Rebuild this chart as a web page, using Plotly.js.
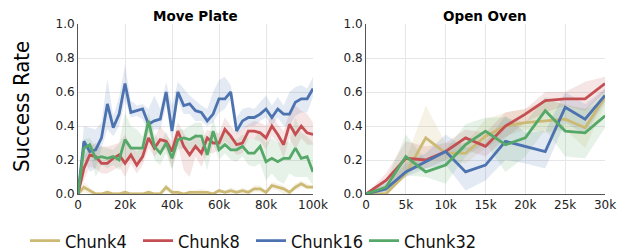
<!DOCTYPE html>
<html><head><meta charset="utf-8">
<script src="https://cdn.plot.ly/plotly-3.0.1.min.js"></script>
<style>html,body{margin:0;padding:0;background:#fff}#chart{width:624px;height:252px}</style>
</head><body><div id="chart"></div>
<script>
// ---------- Data ----------
const seriesNames = ["Chunk4", "Chunk8", "Chunk16", "Chunk32"];
const seriesColors = ["#ccb974", "#c44e52", "#4c72b0", "#55a868"];
const bandColors = ["rgba(204,185,116,0.18)", "rgba(196,78,82,0.15)", "rgba(76,114,176,0.15)", "rgba(85,168,104,0.15)"];

// Move Plate: steps 0..100k every 2.5k
const plateSteps = [0,2500,5000,7500,10000,12500,15000,17500,20000,22500,25000,27500,30000,32500,35000,37500,40000,42500,45000,47500,50000,52500,55000,57500,60000,62500,65000,67500,70000,72500,75000,77500,80000,82500,85000,87500,90000,92500,95000,97500,100000];
const plateChunk4  = [0,0.04,0.02,0.00,0.00,0.01,0.00,0.00,0.01,0.00,0.00,0.00,0.01,0.00,0.00,0.04,0.01,0.01,0.00,0.01,0.01,0.01,0.01,0.00,0.02,0.01,0.02,0.01,0.02,0.01,0.03,0.03,0.01,0.05,0.04,0.03,0.01,0.04,0.06,0.04,0.04];
const plateChunk4Hi= [0,0.07,0.04,0.01,0.01,0.02,0.01,0.01,0.02,0.01,0.01,0.01,0.02,0.01,0.01,0.06,0.02,0.02,0.01,0.02,0.02,0.03,0.02,0.01,0.03,0.02,0.04,0.02,0.04,0.02,0.05,0.05,0.02,0.07,0.06,0.05,0.02,0.06,0.08,0.06,0.05];
const plateChunk4Lo= [0,0.01,0.00,0.00,0.00,0.00,0.00,0.00,0.00,0.00,0.00,0.00,0.00,0.00,0.00,0.02,0.00,0.00,0.00,0.00,0.00,0.00,0.00,0.00,0.01,0.00,0.00,0.00,0.00,0.00,0.01,0.01,0.00,0.03,0.02,0.00,0.00,0.02,0.04,0.03,0.03];
const plateChunk8  = [0,0.15,0.23,0.22,0.18,0.18,0.21,0.23,0.18,0.23,0.17,0.22,0.33,0.27,0.32,0.31,0.25,0.37,0.28,0.23,0.28,0.24,0.33,0.30,0.30,0.38,0.34,0.29,0.30,0.37,0.37,0.36,0.33,0.40,0.35,0.29,0.41,0.35,0.40,0.36,0.35];
const plateChunk8Hi= [0,0.22,0.28,0.30,0.28,0.28,0.29,0.30,0.35,0.28,0.25,0.28,0.38,0.33,0.40,0.35,0.31,0.42,0.36,0.30,0.36,0.31,0.38,0.36,0.36,0.45,0.40,0.36,0.38,0.41,0.43,0.42,0.40,0.47,0.41,0.37,0.48,0.52,0.49,0.47,0.42];
const plateChunk8Lo= [0,0.08,0.16,0.15,0.12,0.12,0.14,0.16,0.10,0.18,0.12,0.17,0.27,0.22,0.26,0.26,0.15,0.29,0.14,0.10,0.22,0.16,0.24,0.24,0.26,0.31,0.27,0.23,0.24,0.33,0.32,0.31,0.26,0.34,0.30,0.21,0.33,0.26,0.33,0.29,0.29];
const plateChunk16  = [0,0.31,0.25,0.26,0.33,0.53,0.39,0.47,0.65,0.48,0.49,0.50,0.41,0.43,0.44,0.60,0.37,0.60,0.52,0.53,0.49,0.48,0.43,0.47,0.56,0.56,0.60,0.37,0.43,0.45,0.45,0.47,0.50,0.45,0.50,0.47,0.47,0.54,0.56,0.56,0.62];
const plateChunk16Hi= [0,0.40,0.39,0.38,0.42,0.68,0.46,0.57,0.76,0.55,0.52,0.53,0.50,0.58,0.50,0.66,0.52,0.66,0.62,0.58,0.55,0.52,0.50,0.60,0.67,0.69,0.64,0.45,0.50,0.51,0.50,0.54,0.58,0.52,0.57,0.52,0.60,0.63,0.64,0.62,0.69];
const plateChunk16Lo= [0,0.22,0.13,0.15,0.27,0.38,0.34,0.40,0.55,0.45,0.46,0.44,0.36,0.38,0.38,0.52,0.30,0.55,0.47,0.47,0.43,0.43,0.40,0.42,0.48,0.50,0.56,0.35,0.38,0.40,0.40,0.43,0.45,0.40,0.45,0.40,0.40,0.46,0.48,0.48,0.57];
const plateChunk32  = [0,0.27,0.29,0.21,0.22,0.21,0.22,0.20,0.32,0.27,0.27,0.27,0.43,0.28,0.24,0.30,0.21,0.32,0.33,0.32,0.34,0.34,0.23,0.37,0.26,0.29,0.26,0.26,0.28,0.24,0.24,0.28,0.19,0.21,0.19,0.21,0.21,0.27,0.21,0.22,0.13];
const plateChunk32Hi= [0,0.32,0.33,0.28,0.28,0.27,0.26,0.30,0.48,0.40,0.38,0.34,0.48,0.36,0.30,0.37,0.28,0.38,0.38,0.40,0.42,0.42,0.30,0.44,0.33,0.37,0.33,0.32,0.35,0.33,0.32,0.38,0.30,0.33,0.30,0.32,0.30,0.45,0.36,0.34,0.30];
const plateChunk32Lo= [0,0.17,0.25,0.10,0.17,0.15,0.17,0.14,0.20,0.20,0.20,0.19,0.37,0.20,0.17,0.24,0.14,0.26,0.27,0.26,0.26,0.27,0.14,0.30,0.20,0.24,0.20,0.19,0.22,0.17,0.16,0.18,0.08,0.12,0.08,0.06,0.12,0.10,0.10,0.10,0.05];

// Open Oven: steps 0..30k every 2.5k
const ovenSteps = [0,2500,5000,7500,10000,12500,15000,17500,20000,22500,25000,27500,30000];
const ovenChunk4   = [0,0.00,0.12,0.33,0.24,0.24,0.34,0.40,0.42,0.43,0.44,0.39,0.57];
const ovenChunk4Hi = [0,0.04,0.20,0.52,0.30,0.30,0.44,0.48,0.50,0.55,0.53,0.50,0.62];
const ovenChunk4Lo = [0,0.00,0.10,0.20,0.20,0.18,0.27,0.34,0.38,0.36,0.38,0.27,0.52];
const ovenChunk8   = [0,0.08,0.21,0.20,0.25,0.33,0.28,0.40,0.47,0.55,0.56,0.56,0.65];
const ovenChunk8Hi = [0,0.12,0.31,0.28,0.30,0.38,0.36,0.48,0.50,0.60,0.60,0.66,0.69];
const ovenChunk8Lo = [0,0.05,0.14,0.15,0.20,0.26,0.22,0.33,0.42,0.48,0.52,0.49,0.60];
const ovenChunk16  = [0,0.03,0.13,0.19,0.25,0.13,0.17,0.31,0.28,0.25,0.51,0.44,0.58];
const ovenChunk16Hi= [0,0.06,0.18,0.24,0.35,0.27,0.30,0.46,0.36,0.37,0.60,0.53,0.62];
const ovenChunk16Lo= [0,0.01,0.10,0.15,0.17,0.02,0.08,0.20,0.18,0.15,0.42,0.35,0.54];
const ovenChunk32  = [0,0.04,0.22,0.13,0.17,0.29,0.37,0.29,0.33,0.49,0.37,0.36,0.46];
const ovenChunk32Hi= [0,0.07,0.35,0.20,0.26,0.41,0.45,0.45,0.42,0.57,0.52,0.50,0.55];
const ovenChunk32Lo= [0,0.01,0.11,0.10,0.06,0.22,0.30,0.13,0.22,0.38,0.22,0.21,0.39];

const plateTickVals = [0,20000,40000,60000,80000,100000];
const plateTickText = ["0","20k","40k","60k","80k","100k"];
const ovenTickVals = [0,5000,10000,15000,20000,25000,30000];
const ovenTickText = ["0","5k","10k","15k","20k","25k","30k"];
const yTickVals = [0,0.2,0.4,0.6,0.8,1.0];
const yTickText = ["0.0","0.2","0.4","0.6","0.8","1.0"];

// ---------- Traces ----------
const plate = [[plateChunk4,plateChunk4Hi,plateChunk4Lo],[plateChunk8,plateChunk8Hi,plateChunk8Lo],[plateChunk16,plateChunk16Hi,plateChunk16Lo],[plateChunk32,plateChunk32Hi,plateChunk32Lo]];
const oven = [[ovenChunk4,ovenChunk4Hi,ovenChunk4Lo],[ovenChunk8,ovenChunk8Hi,ovenChunk8Lo],[ovenChunk16,ovenChunk16Hi,ovenChunk16Lo],[ovenChunk32,ovenChunk32Hi,ovenChunk32Lo]];

const traces = [];
function addBands(xs, sets, xa, ya){
  sets.forEach((s,i)=>{
    traces.push({x:xs, y:s[1], xaxis:xa, yaxis:ya, mode:'lines', line:{width:0, color:bandColors[i]}, showlegend:false, hoverinfo:'skip'});
    traces.push({x:xs, y:s[2], xaxis:xa, yaxis:ya, mode:'lines', line:{width:0, color:bandColors[i]}, fill:'tonexty', fillcolor:bandColors[i], showlegend:false, hoverinfo:'skip'});
  });
}
function addLines(xs, sets, xa, ya, legend){
  sets.forEach((s,i)=>{
    traces.push({x:xs, y:s[0], xaxis:xa, yaxis:ya, mode:'lines', name:seriesNames[i], line:{width:2.8, color:seriesColors[i]}, showlegend:legend});
  });
}
addBands(plateSteps, plate, 'x', 'y');
addBands(ovenSteps, oven, 'x2', 'y2');
addLines(plateSteps, plate, 'x', 'y', true);
addLines(ovenSteps, oven, 'x2', 'y2', false);

const W = 624, H = 252;
const narrow = 'Liberation Sans Narrow, DejaVu Sans Condensed, Roboto Condensed, Open Sans Condensed, Liberation Sans';
const tickFont = {family:'DejaVu Sans', size:12, color:'#222'};
const axCommon = {showgrid:true, gridcolor:'#e6e6e6', gridwidth:1, zeroline:false, showline:true, linecolor:'#555', linewidth:1, ticks:'', tickfont:tickFont, fixedrange:true, automargin:false};

const layout = {
  width:W, height:H, margin:{l:0,r:0,t:0,b:0, autoexpand:false}, paper_bgcolor:'#fff', plot_bgcolor:'#fff',
  xaxis: Object.assign({}, axCommon, {domain:[78/W, 313/W], range:[0,100000], tickvals:plateTickVals, ticktext:plateTickText, anchor:'y'}),
  yaxis: Object.assign({}, axCommon, {domain:[(H-194)/H, (H-24)/H], range:[0,1], tickvals:yTickVals, ticktext:yTickText, anchor:'x'}),
  xaxis2: Object.assign({}, axCommon, {domain:[366/W, 605/W], range:[0,30000], tickvals:ovenTickVals, ticktext:ovenTickText, anchor:'y2'}),
  yaxis2: Object.assign({}, axCommon, {domain:[(H-194)/H, (H-24)/H], range:[0,1], tickvals:yTickVals, ticktext:yTickText, anchor:'x2'}),
  showlegend:true,
  legend:{orientation:'h', traceorder:'normal', x:25/W, xanchor:'left', y:(H-241)/H, yanchor:'middle', font:{family:narrow, size:18, color:'#111'}, entrywidth:68, entrywidthmode:'pixels', itemwidth:30, bgcolor:'rgba(0,0,0,0)'},
  annotations:[
    {text:'<b>Move Plate</b>', x:195.5/W, y:(H-16)/H, xref:'paper', yref:'paper', xanchor:'center', yanchor:'middle', showarrow:false, font:{family:'DejaVu Sans', size:13.5, color:'#000'}},
    {text:'<b>Open Oven</b>', x:485/W, y:(H-16)/H, xref:'paper', yref:'paper', xanchor:'center', yanchor:'middle', showarrow:false, font:{family:'DejaVu Sans', size:13.5, color:'#000'}},
    {text:'Success Rate', x:21/W, y:(H-107)/H, xref:'paper', yref:'paper', xanchor:'center', yanchor:'middle', textangle:-90, showarrow:false, font:{family:narrow, size:22, color:'#000'}}
  ]
};
Plotly.newPlot('chart', traces, layout, {displayModeBar:false, staticPlot:true});
</script></body></html>
